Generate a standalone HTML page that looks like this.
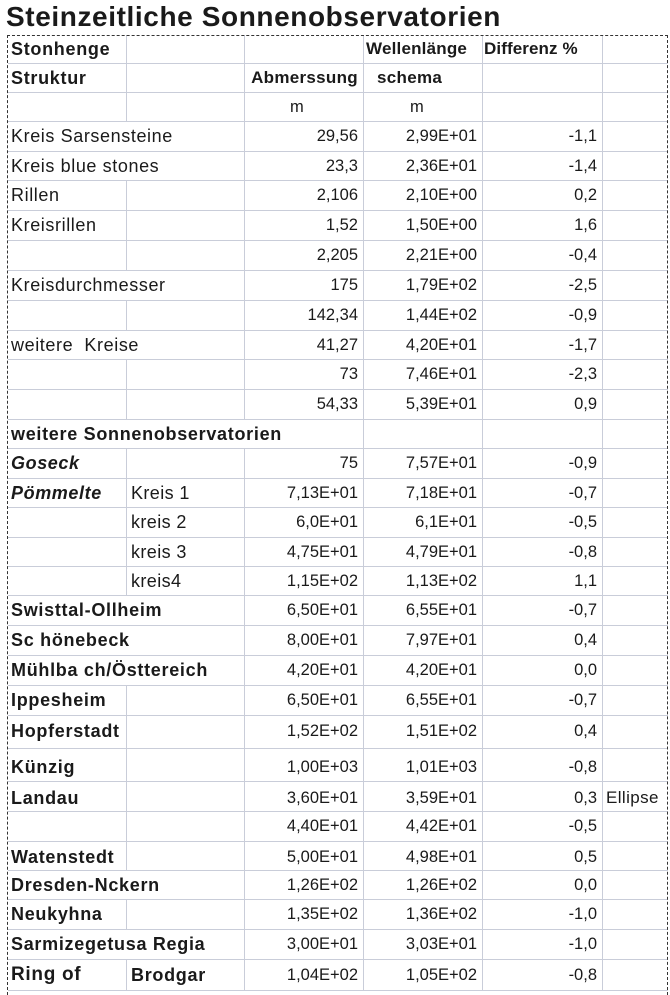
<!DOCTYPE html>
<html><head><meta charset="utf-8">
<style>
body{margin:0;width:670px;height:987px;background:#fff;overflow:hidden;position:relative;font-family:"Liberation Sans",sans-serif;color:#1a1a1a}
.t{position:absolute;left:6px;top:0;font-size:28px;font-weight:bold;line-height:33px;letter-spacing:0.6px}
.r{position:absolute;left:8px;width:660px;border-bottom:1px solid #c9cdd9;font-size:16.5px;
background-image:linear-gradient(#c9cdd9,#c9cdd9),linear-gradient(#c9cdd9,#c9cdd9),linear-gradient(#c9cdd9,#c9cdd9),linear-gradient(#c9cdd9,#c9cdd9),linear-gradient(#c9cdd9,#c9cdd9);
background-repeat:no-repeat;background-size:1px 100%;background-position:118px 0,236px 0,355px 0,474px 0,594px 0}
.n1{background-image:none,linear-gradient(#c9cdd9,#c9cdd9),linear-gradient(#c9cdd9,#c9cdd9),linear-gradient(#c9cdd9,#c9cdd9),linear-gradient(#c9cdd9,#c9cdd9)}
.n12{background-image:none,none,linear-gradient(#c9cdd9,#c9cdd9),linear-gradient(#c9cdd9,#c9cdd9),linear-gradient(#c9cdd9,#c9cdd9)}
.r span{position:absolute;top:0;white-space:nowrap}
.a{left:3px;font-size:18px;letter-spacing:0.6px}.b{left:123px;font-size:18px;letter-spacing:0.4px}.c{right:310px}.d{right:191px}.e{right:71px}.f{left:598px;font-size:17px;letter-spacing:0.4px}
.cm{left:282px}.dm{left:402px}
.bo{font-weight:bold}.r span.bo{font-size:18px;letter-spacing:0.7px}.it{font-style:italic;font-weight:bold}
.dl{position:absolute;left:7px;top:35px;width:0;height:960px;border-left:1px dashed #333}
.dr{position:absolute;left:667px;top:35px;width:0;height:960px;border-left:1px dashed #333}
.dt{position:absolute;left:7px;top:35px;width:661px;height:0;border-top:1px dashed #333}
</style></head><body>
<div class="t">Steinzeitliche Sonnenobservatorien</div>

<div class="r" style="top:35px;height:28px;line-height:28px"><span class="a bo">Stonhenge</span><span class="bo" style="left:358px;width:116px;overflow:hidden;font-size:17px;letter-spacing:0.2px">Wellenlänge</span><span class="bo" style="left:476px;font-size:17px;letter-spacing:0.1px">Differenz %</span></div>
<div class="r" style="top:64px;height:28px;line-height:28px"><span class="a bo">Struktur</span><span class="c bo" style="font-size:17px;letter-spacing:0.3px">Abmerssung</span><span class="bo" style="left:369px;font-size:17px;letter-spacing:0.3px">schema</span></div>
<div class="r" style="top:93px;height:28px;line-height:28px"><span class="cm">m</span><span class="dm">m</span></div>
<div class="r n1" style="top:122px;height:29px;line-height:29px"><span class="a">Kreis Sarsensteine</span><span class="c">29,56</span><span class="d">2,99E+01</span><span class="e">-1,1</span></div>
<div class="r n1" style="top:152px;height:28px;line-height:28px"><span class="a">Kreis blue stones</span><span class="c">23,3</span><span class="d">2,36E+01</span><span class="e">-1,4</span></div>
<div class="r" style="top:181px;height:29px;line-height:29px"><span class="a">Rillen</span><span class="c">2,106</span><span class="d">2,10E+00</span><span class="e">0,2</span></div>
<div class="r" style="top:211px;height:29px;line-height:29px"><span class="a">Kreisrillen</span><span class="c">1,52</span><span class="d">1,50E+00</span><span class="e">1,6</span></div>
<div class="r" style="top:241px;height:29px;line-height:29px"><span class="c">2,205</span><span class="d">2,21E+00</span><span class="e">-0,4</span></div>
<div class="r n1" style="top:271px;height:29px;line-height:29px"><span class="a">Kreisdurchmesser</span><span class="c">175</span><span class="d">1,79E+02</span><span class="e">-2,5</span></div>
<div class="r" style="top:301px;height:29px;line-height:29px"><span class="c">142,34</span><span class="d">1,44E+02</span><span class="e">-0,9</span></div>
<div class="r n1" style="top:331px;height:28px;line-height:28px"><span class="a">weitere&nbsp; Kreise</span><span class="c">41,27</span><span class="d">4,20E+01</span><span class="e">-1,7</span></div>
<div class="r" style="top:360px;height:29px;line-height:29px"><span class="c">73</span><span class="d">7,46E+01</span><span class="e">-2,3</span></div>
<div class="r" style="top:390px;height:29px;line-height:29px"><span class="c">54,33</span><span class="d">5,39E+01</span><span class="e">0,9</span></div>
<div class="r n12" style="top:420px;height:28px;line-height:28px"><span class="a bo">weitere Sonnenobservatorien</span></div>
<div class="r" style="top:449px;height:29px;line-height:29px"><span class="a it">Goseck</span><span class="c">75</span><span class="d">7,57E+01</span><span class="e">-0,9</span></div>
<div class="r" style="top:479px;height:28px;line-height:28px"><span class="a it">Pömmelte</span><span class="b">Kreis 1</span><span class="c">7,13E+01</span><span class="d">7,18E+01</span><span class="e">-0,7</span></div>
<div class="r" style="top:508px;height:29px;line-height:29px"><span class="b">kreis 2</span><span class="c">6,0E+01</span><span class="d">6,1E+01</span><span class="e">-0,5</span></div>
<div class="r" style="top:538px;height:28px;line-height:28px"><span class="b">kreis 3</span><span class="c">4,75E+01</span><span class="d">4,79E+01</span><span class="e">-0,8</span></div>
<div class="r" style="top:567px;height:28px;line-height:28px"><span class="b">kreis4</span><span class="c">1,15E+02</span><span class="d">1,13E+02</span><span class="e">1,1</span></div>
<div class="r n1" style="top:596px;height:29px;line-height:29px"><span class="a bo">Swisttal-Ollheim</span><span class="c">6,50E+01</span><span class="d">6,55E+01</span><span class="e">-0,7</span></div>
<div class="r n1" style="top:626px;height:29px;line-height:29px"><span class="a bo">Sc hönebeck</span><span class="c">8,00E+01</span><span class="d">7,97E+01</span><span class="e">0,4</span></div>
<div class="r n1" style="top:656px;height:29px;line-height:29px"><span class="a bo">Mühlba ch/Östtereich</span><span class="c">4,20E+01</span><span class="d">4,20E+01</span><span class="e">0,0</span></div>
<div class="r" style="top:686px;height:29px;line-height:29px"><span class="a bo">Ippesheim</span><span class="c">6,50E+01</span><span class="d">6,55E+01</span><span class="e">-0,7</span></div>
<div class="r" style="top:716px;height:32px;line-height:30px"><span class="a bo">Hopferstadt</span><span class="c">1,52E+02</span><span class="d">1,51E+02</span><span class="e">0,4</span></div>
<div class="r" style="top:749px;height:32px;line-height:36px"><span class="a bo">Künzig</span><span class="c">1,00E+03</span><span class="d">1,01E+03</span><span class="e">-0,8</span></div>
<div class="r" style="top:782px;height:29px;line-height:32px"><span class="a bo">Landau</span><span class="c">3,60E+01</span><span class="d">3,59E+01</span><span class="e">0,3</span><span class="f">Ellipse</span></div>
<div class="r" style="top:812px;height:29px;line-height:29px"><span class="c">4,40E+01</span><span class="d">4,42E+01</span><span class="e">-0,5</span></div>
<div class="r" style="top:842px;height:28px;line-height:30px"><span class="a bo">Watenstedt</span><span class="c">5,00E+01</span><span class="d">4,98E+01</span><span class="e">0,5</span></div>
<div class="r n1" style="top:871px;height:28px;line-height:29px"><span class="a bo">Dresden-Nckern</span><span class="c">1,26E+02</span><span class="d">1,26E+02</span><span class="e">0,0</span></div>
<div class="r" style="top:900px;height:29px;line-height:29px"><span class="a bo">Neukyhna</span><span class="c">1,35E+02</span><span class="d">1,36E+02</span><span class="e">-1,0</span></div>
<div class="r n1" style="top:930px;height:29px;line-height:29px"><span class="a bo">Sarmizegetusa Regia</span><span class="c">3,00E+01</span><span class="d">3,03E+01</span><span class="e">-1,0</span></div>
<div class="r" style="top:960px;height:30px;line-height:30px"><span class="a bo" style="font-size:19px">Ring of</span><span class="b bo">Brodgar</span><span class="c">1,04E+02</span><span class="d">1,05E+02</span><span class="e">-0,8</span></div>

<div class="dl"></div><div class="dr"></div><div class="dt"></div>
</body></html>
